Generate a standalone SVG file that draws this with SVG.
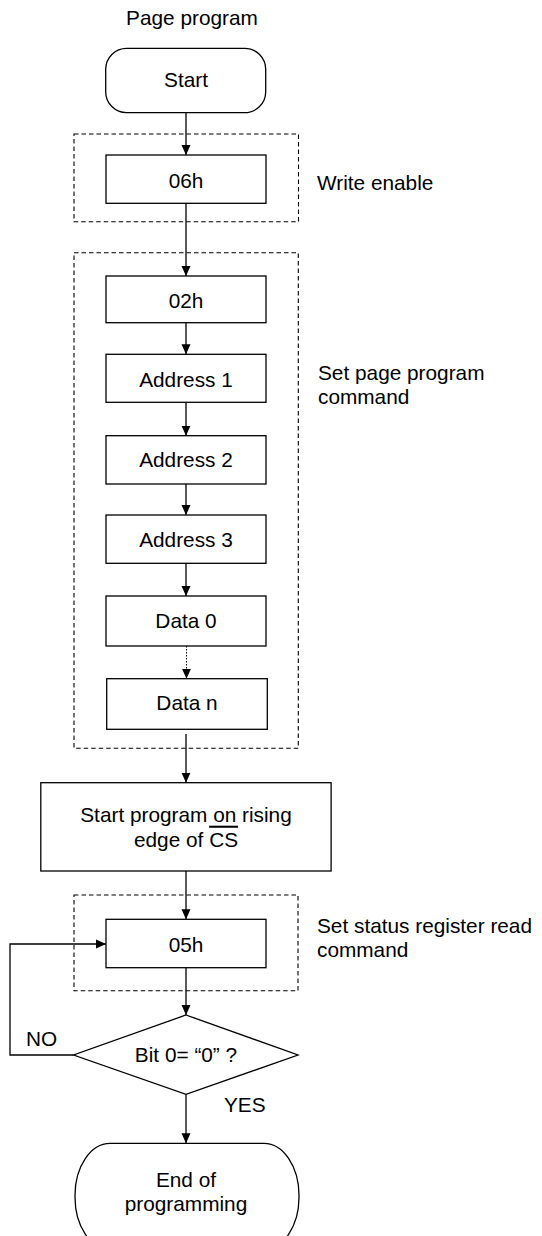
<svg xmlns="http://www.w3.org/2000/svg" width="542" height="1236" viewBox="0 0 542 1236">
<defs>
<marker id="ah" markerWidth="10" markerHeight="10" refX="10" refY="5" orient="auto" markerUnits="userSpaceOnUse">
<path d="M0,0.5 L10,5 L0,9.5 Z" fill="#000"/>
</marker>
<style>
.t{font-family:"Liberation Sans",Arial,sans-serif;font-size:20.8px;fill:#000}
.m{text-anchor:middle}
.box{fill:#fff;stroke:#000;stroke-width:1.3}
.grp{fill:none;stroke:#000;stroke-width:1.1;stroke-dasharray:4.5 3}
.c{fill:none;stroke:#000;stroke-width:1.3}
.d{fill:none;stroke:#000;stroke-width:1;stroke-dasharray:1.5 1.5}
</style>
</defs>
<rect width="542" height="1236" fill="#fff"/>
<text class="t m" x="192" y="25">Page program</text>

<g id="groups">
<rect class="grp" x="74" y="134" width="224.5" height="87.7"/>
<rect class="grp" x="74" y="252.7" width="224.3" height="495.6"/>
<rect class="grp" x="74" y="895" width="224" height="95.7"/>
</g>

<g id="connectors">
<line class="c" x1="186" y1="112.7" x2="186" y2="155" marker-end="url(#ah)"/>
<line class="c" x1="186" y1="203.3" x2="186" y2="276" marker-end="url(#ah)"/>
<line class="c" x1="186" y1="322.7" x2="186" y2="354.3" marker-end="url(#ah)"/>
<line class="c" x1="186" y1="402.3" x2="186" y2="435.7" marker-end="url(#ah)"/>
<line class="c" x1="186" y1="484" x2="186" y2="515" marker-end="url(#ah)"/>
<line class="c" x1="186" y1="563.3" x2="186" y2="596" marker-end="url(#ah)"/>
<line class="d" x1="186.5" y1="646" x2="186.5" y2="678.7" marker-end="url(#ah)"/>
<line class="c" x1="186" y1="734" x2="186" y2="782.7" marker-end="url(#ah)"/>
<line class="c" x1="186" y1="871" x2="186" y2="919.3" marker-end="url(#ah)"/>
<line class="c" x1="186" y1="967.7" x2="186" y2="1015" marker-end="url(#ah)"/>
<line class="c" x1="186" y1="1094.3" x2="186" y2="1143.3" marker-end="url(#ah)"/>
<polyline class="c" points="73.6,1055 10,1055 10,944 106,944" marker-end="url(#ah)"/>
</g>

<g id="start">
<rect class="box" x="105.7" y="48.3" width="160" height="64.4" rx="21" ry="21"/>
<text class="t m" x="186" y="86.7">Start</text>
</g>
<g id="n06h">
<rect class="box" x="106" y="155" width="160" height="48.3"/>
<text class="t m" x="186" y="188">06h</text>
</g>
<text class="t" x="317" y="190">Write enable</text>

<g id="n02h">
<rect class="box" x="106" y="276" width="160" height="46.7"/>
<text class="t m" x="186" y="308">02h</text>
</g>
<g id="addr1">
<rect class="box" x="106" y="354.3" width="160" height="48"/>
<text class="t m" x="186" y="386.7">Address 1</text>
</g>
<g id="addr2">
<rect class="box" x="106" y="435.7" width="160" height="48.3"/>
<text class="t m" x="186" y="467">Address 2</text>
</g>
<g id="addr3">
<rect class="box" x="106" y="515" width="160" height="48.3"/>
<text class="t m" x="186" y="546.7">Address 3</text>
</g>
<g id="data0">
<rect class="box" x="106" y="596" width="160" height="50"/>
<text class="t m" x="186" y="627.7">Data 0</text>
</g>
<g id="datan">
<rect class="box" x="106.7" y="678.7" width="160.6" height="50.6"/>
<text class="t m" x="187" y="710">Data n</text>
</g>
<text class="t" x="318" y="380">Set page program</text>
<text class="t" x="318" y="404">command</text>

<g id="startprog">
<rect class="box" x="40.8" y="782.7" width="290.3" height="88.3"/>
<text class="t m" x="186" y="821.7">Start program on rising</text>
<text class="t m" x="186" y="846.7">edge of <tspan text-decoration="overline">CS</tspan></text>
</g>

<g id="n05h">
<rect class="box" x="106" y="919.3" width="160" height="48.4"/>
<text class="t m" x="186" y="952">05h</text>
</g>
<text class="t" x="317" y="933">Set status register read</text>
<text class="t" x="317" y="957">command</text>

<g id="decision">
<polygon class="box" points="186,1015 298,1055 186,1094.3 73.6,1055"/>
<text class="t m" x="186" y="1061.7">Bit 0= “0” ?</text>
</g>
<text class="t" x="26" y="1045.5">NO</text>
<text class="t" x="224" y="1111.7">YES</text>

<g id="end">
<rect class="box" x="75" y="1143.3" width="224" height="106" rx="35" ry="52"/>
<text class="t m" x="186" y="1186.7">End of</text>
<text class="t m" x="186" y="1210.5">programming</text>
</g>
</svg>
